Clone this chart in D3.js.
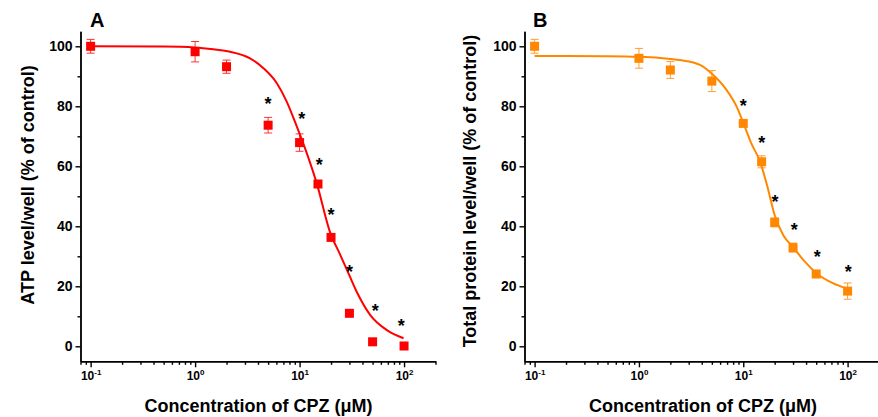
<!DOCTYPE html>
<html>
<head>
<meta charset="utf-8">
<script src="https://cdn.jsdelivr.net/npm/d3@7"></script>
<style>
  body { margin: 0; background: #fff; }
  text { font-family: Arial, "Liberation Sans", sans-serif; font-weight: bold; fill: #000; }
</style>
</head>
<body>
<svg id="chart" width="878" height="417"></svg>
<script>
/*
 *  Data
 */
// CPZ concentrations, uM
var conc = [0.1, 1, 2, 5, 10, 15, 20, 30, 50, 100];

// panel A: ATP level/well, % of control
var atpMean = [100, 98.2, 93.2, 73.7, 67.9, 54.1, 36.3, 11, 1.5, 0.1];
var atpErr  = [2.3, 3.4, 2.2, 2.6, 2.9, 1, 1, 0, 0, 0];
var atpFitX = [0.1, 0.5, 1, 1.5, 2.16, 3.36, 4.51, 6.06, 7.55, 9.42, 11.74, 14.6, 19.6, 24.5, 28.4, 35.4, 47.5, 68.5, 98.9];
var atpFitY = [100, 99.9, 99.6, 99, 98.2, 96, 92.7, 87.7, 81.5, 73.2, 64.3, 54.3, 38, 30.5, 25.5, 18, 10.4, 5.4, 2.7];
var atpStarX = [5, 10.5, 15.4, 20, 30, 53, 94];
var atpStarY = [82, 77, 61.5, 45, 26, 13, 8];

// panel B: total protein level/well, % of control
var proteinMean = [100, 96, 92.1, 88.4, 74.3, 61.5, 41.3, 32.9, 24.1, 18.4];
var proteinErr  = [2.3, 3.3, 2.8, 3.5, 1, 2, 1.5, 1.5, 1.2, 2.7];
var proteinFitX = [0.1, 0.5, 1, 1.6, 2.47, 3.85, 5.16, 6.93, 8.64, 10, 12, 14.5, 16.8, 20.1, 24.2, 30.1, 38.9, 50.6, 73, 98];
var proteinFitY = [96.8, 96.7, 96.5, 96.1, 95.4, 93.8, 90.4, 85.4, 79.9, 74.5, 67.5, 61.5, 54, 43.5, 37, 33, 28.2, 24.3, 21, 19.3];
var proteinStarX = [10, 15, 20.1, 30.8, 51.2, 101.6];
var proteinStarY = [81.2, 68.8, 49.3, 39.9, 31, 26];

// ticks
var yTicks = [0, 20, 40, 60, 80, 100];
var yMinor = [10, 30, 50, 70, 90];
var xDecades = [0.1, 1, 10, 100];
var xExponents = ["-1", "0", "1", "2"];

/*
 *  Drawing
 */
var svg = d3.select("#chart");

function drawPanel(opt) {
  var x = d3.scaleLog().domain([0.08, 200]).range([opt.left, opt.right]);
  var y = d3.scaleLinear().domain([-5, 105]).range([361.3, 31.3]);

  var g = svg.append("g");

  // axes
  var minorX = x.ticks().filter(function(d) { return xDecades.indexOf(d) < 0; });

  g.append("g")
    .attr("transform", "translate(0," + y(-5) + ")")
    .call(d3.axisBottom(x).tickValues(minorX).tickSize(3.5).tickSizeOuter(0).tickFormat(""));
  var xAx = g.append("g")
    .attr("transform", "translate(0," + y(-5) + ")")
    .call(d3.axisBottom(x).tickValues(xDecades).tickSize(6).tickSizeOuter(0).tickFormat(""));

  xAx.selectAll(".tick text").remove();
  xAx.selectAll(".tick").append("text")
    .attr("y", 19)
    .style("text-anchor", "middle")
    .style("font-size", "12px")
    .each(function(d, i) {
      var t = d3.select(this);
      t.append("tspan").text("10");
      t.append("tspan").attr("dy", -5.5).style("font-size", "8px").text(xExponents[i]);
    });

  g.append("g")
    .attr("transform", "translate(" + opt.left + ",0)")
    .call(d3.axisLeft(y).tickValues(yMinor).tickSize(3).tickSizeOuter(0).tickFormat(""));
  g.append("g")
    .attr("transform", "translate(" + opt.left + ",0)")
    .call(d3.axisLeft(y).tickValues(yTicks).tickSize(5).tickSizeOuter(0).tickPadding(3))
    .selectAll("text")
      .style("font-size", "14px")
      .style("font-family", "Arial, 'Liberation Sans', sans-serif");

  g.selectAll(".domain, .tick line")
    .style("stroke", "#000")
    .style("stroke-width", "1.4px");

  // fitted curve
  var line = d3.line()
    .x(function(d) { return x(d[0]); })
    .y(function(d) { return y(d[1]); })
    .curve(d3.curveMonotoneX);

  g.append("path")
    .datum(d3.zip(opt.fitX, opt.fitY))
    .attr("d", line)
    .style("fill", "none")
    .style("stroke", opt.color)
    .style("stroke-width", "2px");

  // error bars
  var pts = d3.zip(conc, opt.mean, opt.err);
  var eb = g.selectAll(".errbar")
    .data(pts.filter(function(d) { return d[2] > 0; }))
    .enter().append("g")
    .attr("class", "errbar")
    .style("stroke", opt.color)
    .style("stroke-width", "1px")
    .style("opacity", 0.8);
  eb.append("line")
    .attr("x1", function(d) { return x(d[0]); })
    .attr("x2", function(d) { return x(d[0]); })
    .attr("y1", function(d) { return y(d[1] + d[2]); })
    .attr("y2", function(d) { return y(d[1] - d[2]); });
  [1, -1].forEach(function(s) {
    eb.append("line")
      .attr("x1", function(d) { return x(d[0]) - 4; })
      .attr("x2", function(d) { return x(d[0]) + 4; })
      .attr("y1", function(d) { return y(d[1] + s * d[2]); })
      .attr("y2", function(d) { return y(d[1] + s * d[2]); });
  });

  // square markers
  g.selectAll(".pt")
    .data(pts)
    .enter().append("rect")
    .attr("class", "pt")
    .attr("x", function(d) { return x(d[0]) - 4.5; })
    .attr("y", function(d) { return y(d[1]) - 4.5; })
    .attr("width", 9)
    .attr("height", 9)
    .style("fill", opt.color);

  // significance stars
  g.selectAll(".star")
    .data(d3.zip(opt.starX, opt.starY))
    .enter().append("text")
    .attr("class", "star")
    .attr("x", function(d) { return x(d[0]); })
    .attr("y", function(d) { return y(d[1]) + 9.5; })
    .style("text-anchor", "middle")
    .style("font-size", "18px")
    .text("*");

  // titles
  g.append("text")
    .attr("transform", "translate(" + opt.yTitleX + "," + opt.yTitleY + ") rotate(-90)")
    .attr("dy", "0.35em")
    .style("text-anchor", "middle")
    .style("font-size", "18px")
    .text(opt.yTitle);

  g.append("text")
    .attr("x", opt.xTitleX)
    .attr("y", 412)
    .style("text-anchor", "middle")
    .style("font-size", "18px")
    .text("Concentration of CPZ (\u03bcM)");

  g.append("text")
    .attr("x", opt.labelX)
    .attr("y", 27)
    .style("font-size", "20px")
    .text(opt.label);
}

drawPanel({
  left: 80.5, right: 435.5, color: "#ff0000",
  mean: atpMean, err: atpErr, fitX: atpFitX, fitY: atpFitY,
  starX: atpStarX, starY: atpStarY,
  yTitle: "ATP level/well (% of control)", yTitleX: 28, yTitleY: 185,
  xTitleX: 258.5, label: "A", labelX: 90
});

drawPanel({
  left: 524.5, right: 879, color: "#ff8800",
  mean: proteinMean, err: proteinErr, fitX: proteinFitX, fitY: proteinFitY,
  starX: proteinStarX, starY: proteinStarY,
  yTitle: "Total protein level/well (% of control)", yTitleX: 470, yTitleY: 191,
  xTitleX: 703, label: "B", labelX: 533
});
</script>
</body>
</html>
